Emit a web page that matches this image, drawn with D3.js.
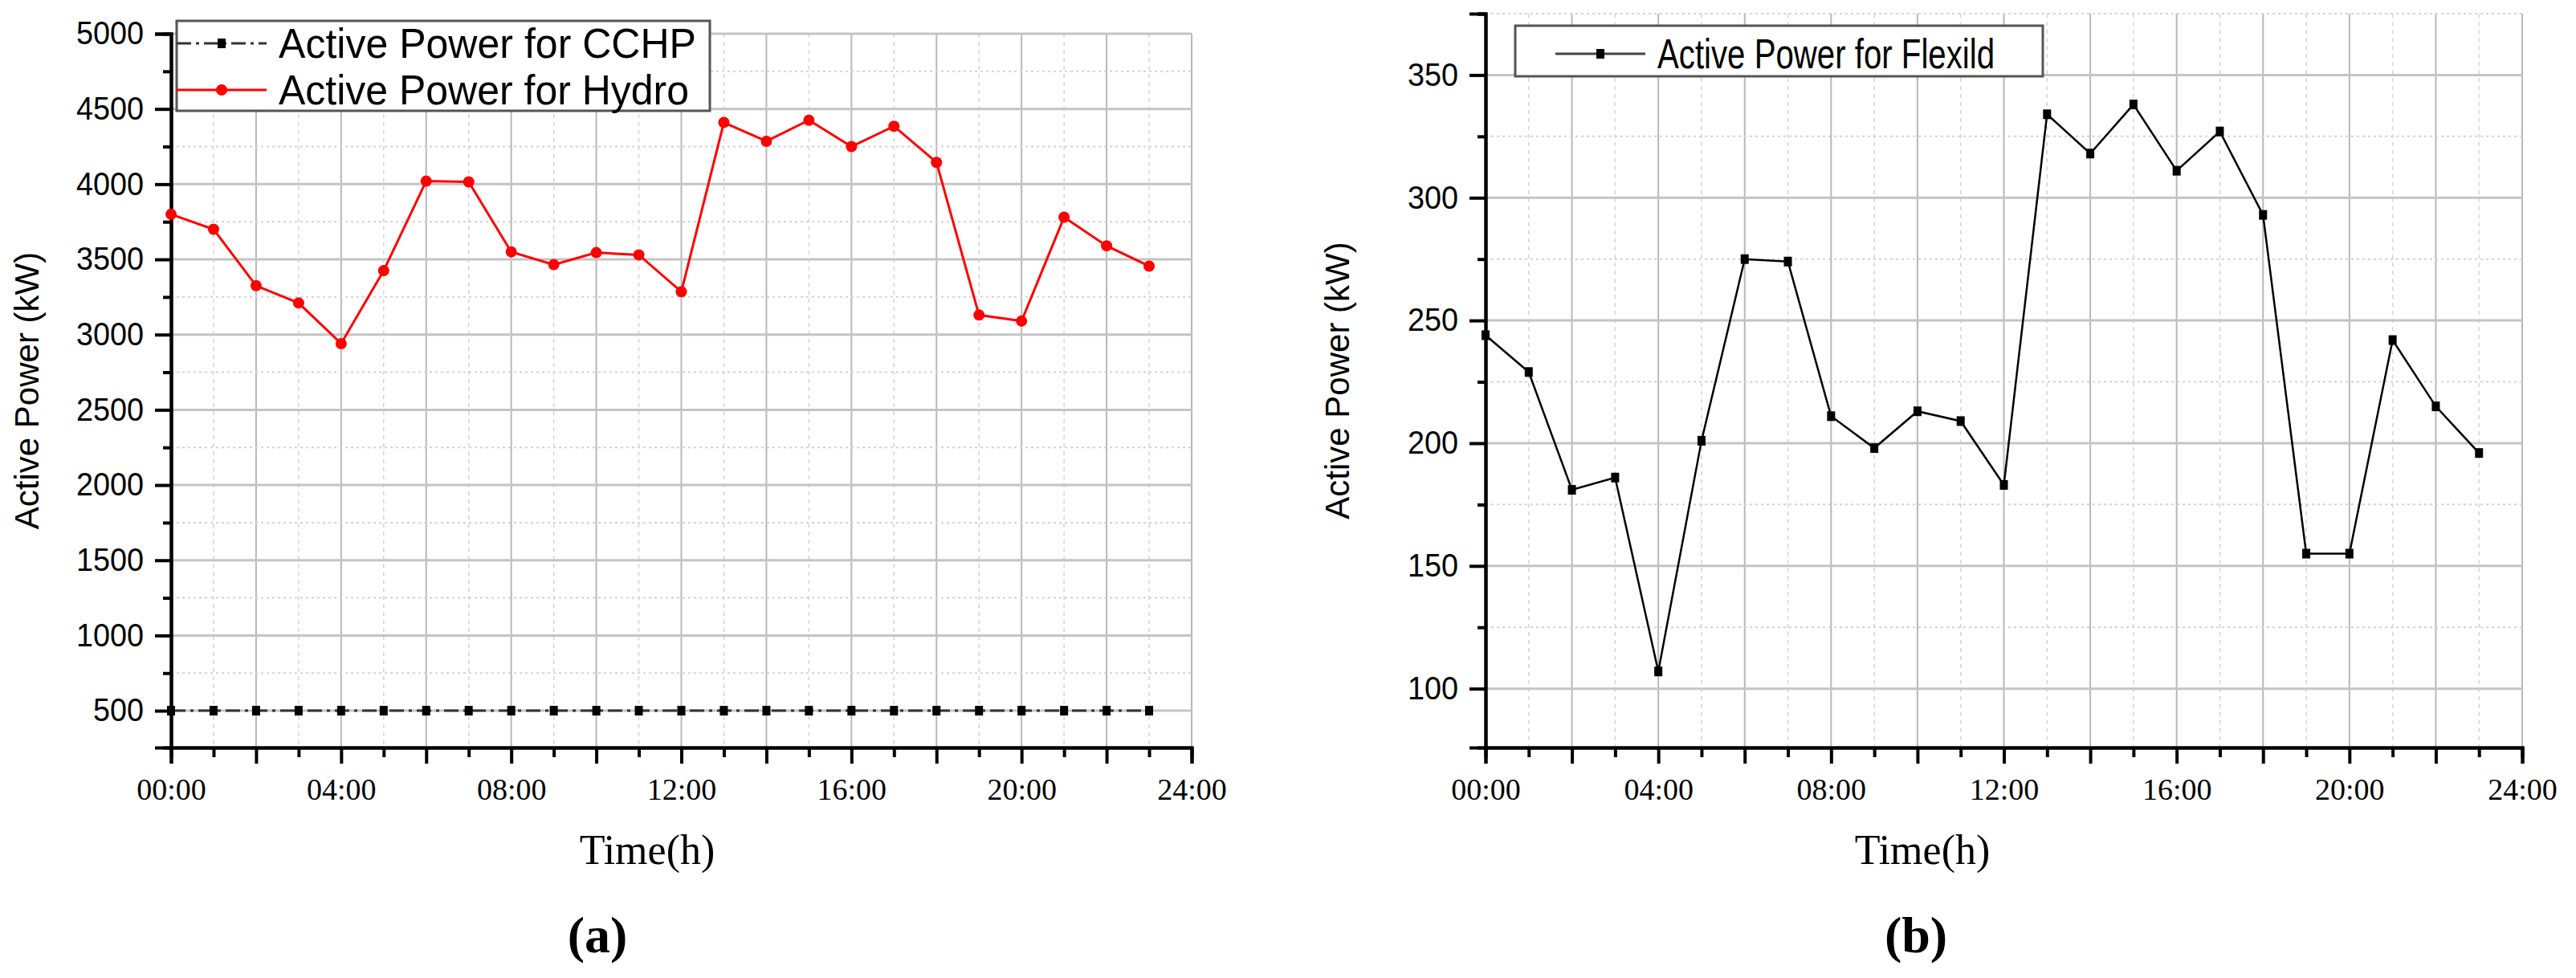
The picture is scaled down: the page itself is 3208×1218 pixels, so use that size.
<!DOCTYPE html>
<html>
<head>
<meta charset="utf-8">
<script src="https://cdn.jsdelivr.net/npm/d3@7"></script>
<style>
  body { margin: 0; background: #fff; }
  .tick-y { font-family: "Liberation Sans", Arial, sans-serif; }
  .tick-x { font-family: "Liberation Serif", "DejaVu Serif", serif; }
</style>
</head>
<body>
<div id="chart"></div>
<script>
// hours 0..23
const hours = d3.range(0, 24)
const cchp = [500, 500, 500, 500, 500, 500, 500, 500, 500, 500, 500, 500,
  500, 500, 500, 500, 500, 500, 500, 500, 500, 500, 500, 500]
const hydro = [3800, 3700, 3325, 3210, 2940, 3425, 4020, 4015, 3550, 3465, 3545, 3530,
  3285, 4410, 4285, 4425, 4250, 4385, 4145, 3130, 3090, 3780, 3590, 3455]
const flexild = [244, 229, 181, 186, 107, 201, 275, 274, 211, 198, 213, 209,
  183, 334, 318, 338, 311, 327, 293, 155, 155, 242, 215, 196]
const xTickLabels = ['00:00', '04:00', '08:00', '12:00', '16:00', '20:00', '24:00']
const yTicksA = [500, 1000, 1500, 2000, 2500, 3000, 3500, 4000, 4500, 5000]
const yTicksB = [100, 150, 200, 250, 300, 350]

const svg = d3.select('#chart').append('svg').attr('width', 3208).attr('height', 1218)

// draw one panel; series = [{values, color, dash, marker}]
function panel(opt) {
  const x = d3.scaleLinear().domain([0, 24]).range([opt.left, opt.right])
  const y = d3.scaleLinear().domain(opt.yDomain).range([opt.bottom, opt.top])
  const g = svg.append('g')

  // grid: minor dotted, major solid
  g.selectAll('.vminor').data(d3.range(1, 24, 2)).enter().append('line')
    .attr('x1', (d) => x(d)).attr('x2', (d) => x(d)).attr('y1', opt.top).attr('y2', opt.bottom)
    .attr('stroke', '#d4d4d4').attr('stroke-width', 1.5).attr('stroke-dasharray', '5,5')
  g.selectAll('.vmajor').data(d3.range(2, 25, 2)).enter().append('line')
    .attr('x1', (d) => x(d)).attr('x2', (d) => x(d)).attr('y1', opt.top).attr('y2', opt.bottom)
    .attr('stroke', '#b8b8b8').attr('stroke-width', 2)
  g.selectAll('.hminor').data(opt.minorY).enter().append('line')
    .attr('x1', opt.left).attr('x2', opt.right).attr('y1', (d) => y(d)).attr('y2', (d) => y(d))
    .attr('stroke', '#d4d4d4').attr('stroke-width', 2).attr('stroke-dasharray', '3,4')
  g.selectAll('.hmajor').data(opt.yTicks).enter().append('line')
    .attr('x1', opt.left).attr('x2', opt.right).attr('y1', (d) => y(d)).attr('y2', (d) => y(d))
    .attr('stroke', '#c4c4c4').attr('stroke-width', 3)

  // axes
  const ya = g.append('g').attr('transform', `translate(${opt.left},0)`)
    .call(d3.axisLeft(y).tickValues(opt.yTicks).tickSize(20).tickPadding(14).tickFormat(d3.format('d')))
  ya.selectAll('text').attr('class', 'tick-y').attr('font-size', 40).attr('fill', '#000')
    .attr('textLength', (d) => String(d).length * 21).attr('lengthAdjust', 'spacingAndGlyphs')
  g.append('g').attr('transform', `translate(${opt.left},0)`)
    .call(d3.axisLeft(y).tickValues(opt.minorY).tickSize(10).tickFormat(''))
  const xa = g.append('g').attr('transform', `translate(0,${opt.bottom})`)
    .call(d3.axisBottom(x).tickValues(d3.range(0, 25, 2)).tickSize(20).tickPadding(18)
      .tickFormat((d) => (d % 4 === 0 ? xTickLabels[d / 4] : '')))
  xa.selectAll('text').attr('class', 'tick-x').attr('font-size', 38).attr('fill', '#000')
  g.append('g').attr('transform', `translate(0,${opt.bottom})`)
    .call(d3.axisBottom(x).tickValues(d3.range(1, 24, 2)).tickSize(12).tickFormat(''))
  g.selectAll('.domain').attr('stroke', '#000').attr('stroke-width', 4)
  g.selectAll('.tick line').attr('stroke', '#000').attr('stroke-width', 4)

  // series
  opt.series.forEach((s) => {
    g.append('path').datum(s.values)
      .attr('fill', 'none').attr('stroke', s.color).attr('stroke-width', s.width)
      .attr('stroke-dasharray', s.dash)
      .attr('d', d3.line().x((d, i) => x(hours[i])).y((d) => y(d)))
    if (s.marker === 'circle') {
      g.selectAll(null).data(s.values).enter().append('circle')
        .attr('cx', (d, i) => x(hours[i])).attr('cy', (d) => y(d)).attr('r', 7).attr('fill', s.mcolor)
    } else {
      g.selectAll(null).data(s.values).enter().append('rect')
        .attr('x', (d, i) => x(hours[i]) - 5).attr('y', (d) => y(d) - 6)
        .attr('width', 10).attr('height', 12).attr('fill', s.mcolor)
    }
  })

  // legend
  const lg = g.append('g')
  lg.append('rect').attr('x', opt.legend.x).attr('y', opt.legend.y)
    .attr('width', opt.legend.w).attr('height', opt.legend.h)
    .attr('fill', '#fff').attr('stroke', '#555').attr('stroke-width', 3)
  opt.series.forEach((s, i) => {
    const ly = opt.legend.y + opt.legend.rowY + i * 58
    lg.append('line').attr('x1', opt.legend.x + opt.legend.lx).attr('x2', opt.legend.x + opt.legend.lx + 112)
      .attr('y1', ly).attr('y2', ly).attr('stroke', s.legendColor || s.color).attr('stroke-width', 3)
      .attr('stroke-dasharray', s.dash)
    if (s.marker === 'circle') {
      lg.append('circle').attr('cx', opt.legend.x + opt.legend.lx + 56).attr('cy', ly).attr('r', 7).attr('fill', s.mcolor)
    } else {
      lg.append('rect').attr('x', opt.legend.x + opt.legend.lx + 51).attr('y', ly - 6)
        .attr('width', 10).attr('height', 12).attr('fill', s.mcolor)
    }
    lg.append('text').attr('x', opt.legend.x + opt.legend.lx + 127).attr('y', ly + 18)
      .attr('font-family', 'Liberation Sans, Arial, sans-serif')
      .attr('font-size', 52).attr('textLength', s.textLen).attr('lengthAdjust', 'spacingAndGlyphs')
      .text(s.name)
  })

  // titles
  g.append('text').attr('transform', `translate(${opt.yTitleX},${(opt.top + opt.bottom) / 2}) rotate(-90)`)
    .attr('text-anchor', 'middle').attr('font-family', 'Liberation Sans, Arial, sans-serif')
    .attr('font-size', 42).text('Active Power (kW)')
  g.append('text').attr('x', opt.xTitleX).attr('y', 1076).attr('text-anchor', 'middle')
    .attr('font-family', 'Liberation Serif, serif').attr('font-size', 52).text('Time(h)')
  g.append('text').attr('x', opt.labelX).attr('y', 1186).attr('text-anchor', 'middle')
    .attr('font-family', 'Liberation Serif, serif').attr('font-size', 64).attr('font-weight', 'bold')
    .text(opt.label)
}

panel({
  left: 213, right: 1484, top: 42, bottom: 931, yDomain: [255, 5000],
  yTicks: yTicksA, minorY: d3.range(750, 5000, 500),
  yTitleX: 48, xTitleX: 806, labelX: 744, label: '(a)',
  legend: { x: 220, y: 26, w: 664, h: 112, rowY: 28, lx: 0 },
  series: [
    { name: 'Active Power for CCHP', textLen: 520, values: cchp, color: '#333', width: 3, dash: '18,6,4,6', marker: 'rect', mcolor: '#000' },
    { name: 'Active Power for Hydro', textLen: 511, values: hydro, color: '#ff0000', width: 3, dash: null, marker: 'circle', mcolor: '#ff0000' }
  ]
})

panel({
  left: 1850, right: 3141, top: 17, bottom: 931, yDomain: [76, 375],
  yTicks: yTicksB, minorY: [125, 175, 225, 275, 325, 375],
  yTitleX: 1680, xTitleX: 2394, labelX: 2386, label: '(b)',
  legend: { x: 1887, y: 32, w: 657, h: 63, rowY: 35, lx: 50 },
  series: [
    { name: 'Active Power for Flexild', textLen: 420, values: flexild, color: '#000', width: 2.5, dash: null, marker: 'rect', mcolor: '#000', legendColor: '#444' }
  ]
})
</script>
</body>
</html>
